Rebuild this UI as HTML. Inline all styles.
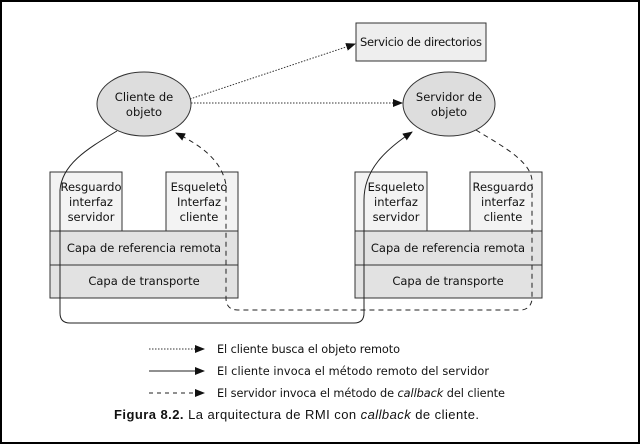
<!DOCTYPE html>
<html><head><meta charset="utf-8"><style>
html,body{margin:0;padding:0;background:#fff}
svg{display:block}
text{font-family:"DejaVu Sans","Liberation Sans",sans-serif;font-size:11.5px;fill:#111}
</style></head><body>
<svg width="641" height="445" viewBox="0 0 641 445" xmlns="http://www.w3.org/2000/svg">
<defs>
<marker id="ar" markerWidth="10" markerHeight="8" refX="9" refY="4" orient="auto" markerUnits="userSpaceOnUse">
<path d="M0,0 L10,4 L0,8 Z" fill="#111"/></marker>
</defs>
<rect x="1" y="1" width="638" height="442" fill="#fff" stroke="#000" stroke-width="2"/>

<rect x="356" y="23" width="130" height="38" fill="#eee" stroke="#333"/>
<text x="421" y="46" text-anchor="middle" textLength="122">Servicio de directorios</text>

<ellipse cx="144" cy="104" rx="47" ry="32" fill="#ddd" stroke="#333"/>
<text x="144" y="101" text-anchor="middle">Cliente de</text>
<text x="144" y="116" text-anchor="middle">objeto</text>
<ellipse cx="449" cy="104" rx="46" ry="32" fill="#ddd" stroke="#333"/>
<text x="449" y="101" text-anchor="middle">Servidor de</text>
<text x="449" y="116" text-anchor="middle">objeto</text>

<rect x="50" y="231" width="188" height="34" fill="#e2e2e2" stroke="#333"/>
<rect x="50" y="265" width="188" height="33" fill="#e2e2e2" stroke="#333"/>
<rect x="50" y="172" width="72" height="59" fill="#f3f3f3" stroke="#333"/>
<rect x="166" y="172" width="72" height="59" fill="#f3f3f3" stroke="#333"/>
<text x="91" y="191" text-anchor="middle">Resguardo</text>
<text x="91" y="206" text-anchor="middle">interfaz</text>
<text x="91" y="221" text-anchor="middle">servidor</text>
<text x="199" y="191" text-anchor="middle">Esqueleto</text>
<text x="199" y="206" text-anchor="middle">Interfaz</text>
<text x="199" y="221" text-anchor="middle">cliente</text>
<text x="144" y="252" text-anchor="middle">Capa de referencia remota</text>
<text x="144" y="285" text-anchor="middle">Capa de transporte</text>

<rect x="355" y="231" width="187" height="34" fill="#e2e2e2" stroke="#333"/>
<rect x="355" y="265" width="187" height="33" fill="#e2e2e2" stroke="#333"/>
<rect x="355" y="172" width="72" height="59" fill="#f3f3f3" stroke="#333"/>
<rect x="470" y="172" width="72" height="59" fill="#f3f3f3" stroke="#333"/>
<text x="396" y="191" text-anchor="middle">Esqueleto</text>
<text x="396" y="206" text-anchor="middle">interfaz</text>
<text x="396" y="221" text-anchor="middle">servidor</text>
<text x="503" y="191" text-anchor="middle">Resguardo</text>
<text x="503" y="206" text-anchor="middle">interfaz</text>
<text x="503" y="221" text-anchor="middle">cliente</text>
<text x="448" y="252" text-anchor="middle">Capa de referencia remota</text>
<text x="448" y="285" text-anchor="middle">Capa de transporte</text>

<path d="M191,103 L402,103" stroke="#333" stroke-dasharray="1.5,1.5" fill="none" marker-end="url(#ar)"/>
<path d="M190,99 L355,44" stroke="#333" stroke-dasharray="1.5,1.5" fill="none" marker-end="url(#ar)"/>

<path d="M117,131 C85,150 62,165 60,190 L60,313 Q60,323 70,323 L354,323 Q364,323 364,313 L364,200 C364,170 385,150 412,132" stroke="#222" fill="none" marker-end="url(#ar)"/>

<path d="M476,130 C500,145 530,160 532,180 L532,300 Q530,310 520,310 L238,310 Q226,310 226,298 L226,185 C222,160 200,145 176,133" stroke="#222" stroke-dasharray="5,4" fill="none" marker-end="url(#ar)"/>

<path d="M149,349 L204,349" stroke="#333" stroke-dasharray="1.5,1.5" marker-end="url(#ar)"/>
<text x="217" y="353" style="font-size:11.3px" textLength="183">El cliente busca el objeto remoto</text>
<path d="M149,371 L204,371" stroke="#222" marker-end="url(#ar)"/>
<text x="217" y="375" style="font-size:11.3px" textLength="272">El cliente invoca el método remoto del servidor</text>
<path d="M149,393 L204,393" stroke="#222" stroke-dasharray="4,4" marker-end="url(#ar)"/>
<text x="217" y="397" style="font-size:11.3px" textLength="288">El servidor invoca el método de <tspan font-style="italic">callback</tspan> del cliente</text>
<text x="114" y="419" style="font-family:'Liberation Sans',sans-serif;font-size:13px" textLength="365"><tspan font-weight="bold">Figura 8.2.</tspan> La arquitectura de RMI con <tspan font-style="italic">callback</tspan> de cliente.</text>
</svg>
</body></html>
